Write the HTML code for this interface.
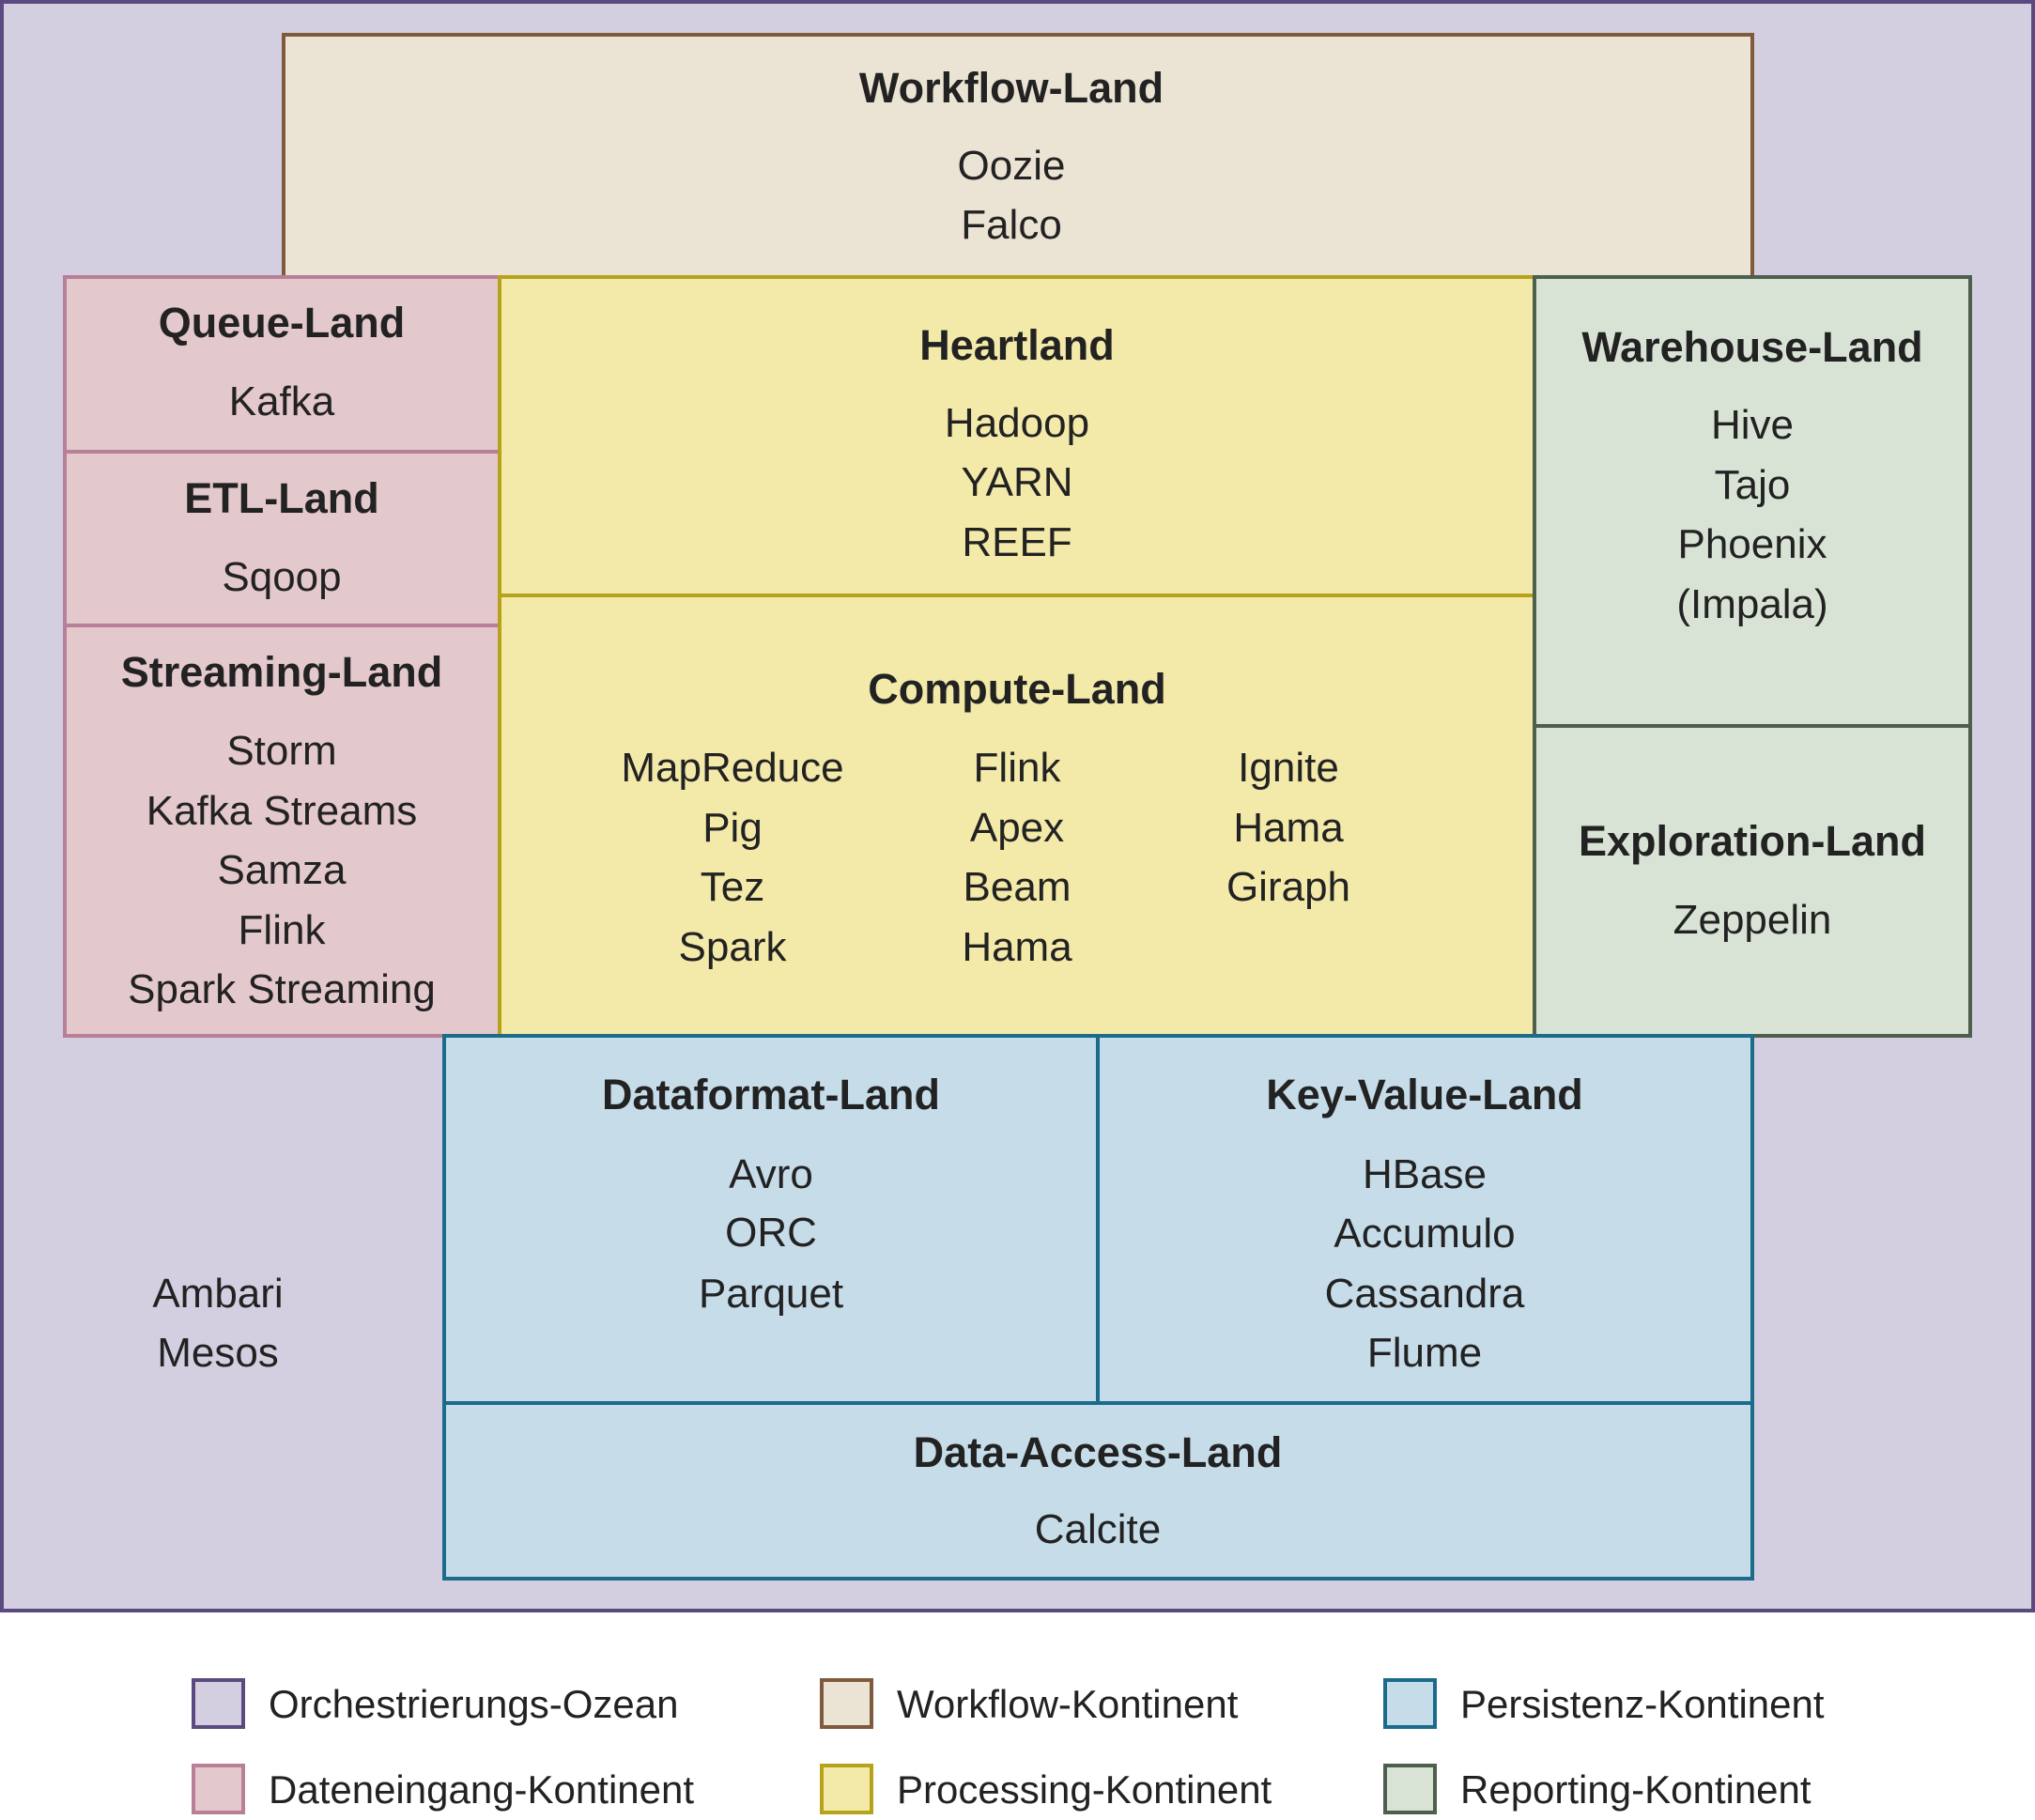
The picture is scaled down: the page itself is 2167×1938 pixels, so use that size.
<!DOCTYPE html>
<html><head><meta charset="utf-8"><style>
body{margin:0;width:2167px;height:1935px;background:#fff;position:relative;font-family:"Liberation Sans",sans-serif;color:#222;overflow:hidden}
.b{position:absolute;box-sizing:border-box;border:4px solid}
.t{position:absolute;transform:translateX(-50%);white-space:nowrap;height:64px;line-height:64px;font-size:44px;text-align:center}
.h{font-weight:bold;font-size:45px}
.o{background:#d4cfe0;border-color:#5b4a80}
.w{background:#ebe3d3;border-color:#7f5a3c}
.p{background:#e3c8cc;border-color:#b87f98}
.y{background:#f3e9a9;border-color:#b6a21b}
.g{background:#d8e3d5;border-color:#4d5f4d}
.u{background:#c6dce9;border-color:#1a6c8a}
.l{position:absolute;white-space:nowrap;font-size:42px;height:64px;line-height:64px}
</style></head><body>
<div class="b o" style="left:0;top:0;width:2167px;height:1717px"></div>
<div class="b w" style="left:300px;top:35px;width:1568px;height:262px"></div>
<div class="b p" style="left:67px;top:293px;width:467px;height:190px"></div>
<div class="b p" style="left:67px;top:479px;width:467px;height:189px"></div>
<div class="b p" style="left:67px;top:664px;width:467px;height:441px"></div>
<div class="b y" style="left:530px;top:293px;width:1106px;height:343px"></div>
<div class="b y" style="left:530px;top:632px;width:1106px;height:473px"></div>
<div class="b g" style="left:1632px;top:293px;width:468px;height:482px"></div>
<div class="b g" style="left:1632px;top:771px;width:468px;height:334px"></div>
<div class="b u" style="left:471px;top:1101px;width:700px;height:395px"></div>
<div class="b u" style="left:1167px;top:1101px;width:701px;height:395px"></div>
<div class="b u" style="left:471px;top:1492px;width:1397px;height:191px"></div>

<div class="t h" style="left:1077px;top:62px">Workflow-Land</div>
<div class="t" style="left:1077px;top:145px">Oozie</div>
<div class="t" style="left:1077px;top:208px">Falco</div>

<div class="t h" style="left:300px;top:312px">Queue-Land</div>
<div class="t" style="left:300px;top:396px">Kafka</div>
<div class="t h" style="left:300px;top:499px">ETL-Land</div>
<div class="t" style="left:300px;top:583px">Sqoop</div>
<div class="t h" style="left:300px;top:684px">Streaming-Land</div>
<div class="t" style="left:300px;top:768px">Storm</div>
<div class="t" style="left:300px;top:832px">Kafka Streams</div>
<div class="t" style="left:300px;top:895px">Samza</div>
<div class="t" style="left:300px;top:959px">Flink</div>
<div class="t" style="left:300px;top:1022px">Spark Streaming</div>

<div class="t h" style="left:1083px;top:336px">Heartland</div>
<div class="t" style="left:1083px;top:419px">Hadoop</div>
<div class="t" style="left:1083px;top:482px">YARN</div>
<div class="t" style="left:1083px;top:546px">REEF</div>

<div class="t h" style="left:1083px;top:702px">Compute-Land</div>
<div class="t" style="left:780px;top:786px">MapReduce</div>
<div class="t" style="left:780px;top:850px">Pig</div>
<div class="t" style="left:780px;top:913px">Tez</div>
<div class="t" style="left:780px;top:977px">Spark</div>
<div class="t" style="left:1083px;top:786px">Flink</div>
<div class="t" style="left:1083px;top:850px">Apex</div>
<div class="t" style="left:1083px;top:913px">Beam</div>
<div class="t" style="left:1083px;top:977px">Hama</div>
<div class="t" style="left:1372px;top:786px">Ignite</div>
<div class="t" style="left:1372px;top:850px">Hama</div>
<div class="t" style="left:1372px;top:913px">Giraph</div>

<div class="t h" style="left:1866px;top:338px">Warehouse-Land</div>
<div class="t" style="left:1866px;top:421px">Hive</div>
<div class="t" style="left:1866px;top:485px">Tajo</div>
<div class="t" style="left:1866px;top:548px">Phoenix</div>
<div class="t" style="left:1866px;top:612px">(Impala)</div>
<div class="t h" style="left:1866px;top:864px">Exploration-Land</div>
<div class="t" style="left:1866px;top:948px">Zeppelin</div>

<div class="t h" style="left:821px;top:1134px">Dataformat-Land</div>
<div class="t" style="left:821px;top:1219px">Avro</div>
<div class="t" style="left:821px;top:1281px">ORC</div>
<div class="t" style="left:821px;top:1346px">Parquet</div>
<div class="t h" style="left:1517px;top:1134px">Key-Value-Land</div>
<div class="t" style="left:1517px;top:1219px">HBase</div>
<div class="t" style="left:1517px;top:1282px">Accumulo</div>
<div class="t" style="left:1517px;top:1346px">Cassandra</div>
<div class="t" style="left:1517px;top:1409px">Flume</div>
<div class="t h" style="left:1169px;top:1515px">Data-Access-Land</div>
<div class="t" style="left:1169px;top:1597px">Calcite</div>

<div class="t" style="left:232px;top:1346px">Ambari</div>
<div class="t" style="left:232px;top:1409px">Mesos</div>

<div class="b o" style="left:204px;top:1787px;width:57px;height:54px"></div>
<div class="l" style="left:286px;top:1783px">Orchestrierungs-Ozean</div>
<div class="b p" style="left:204px;top:1878px;width:57px;height:54px"></div>
<div class="l" style="left:286px;top:1874px">Dateneingang-Kontinent</div>
<div class="b w" style="left:873px;top:1787px;width:57px;height:54px"></div>
<div class="l" style="left:955px;top:1783px">Workflow-Kontinent</div>
<div class="b y" style="left:873px;top:1878px;width:57px;height:54px"></div>
<div class="l" style="left:955px;top:1874px">Processing-Kontinent</div>
<div class="b u" style="left:1473px;top:1787px;width:57px;height:54px"></div>
<div class="l" style="left:1555px;top:1783px">Persistenz-Kontinent</div>
<div class="b g" style="left:1473px;top:1878px;width:57px;height:54px"></div>
<div class="l" style="left:1555px;top:1874px">Reporting-Kontinent</div>
</body></html>
